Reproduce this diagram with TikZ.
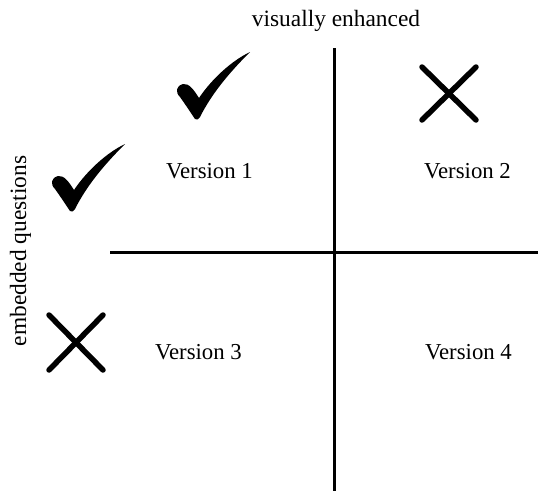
\documentclass[tikz,border=0pt]{standalone}
\usepackage{fontspec}
\setmainfont{Liberation Serif}
\begin{document}
\begin{tikzpicture}[x=1pt,y=-1pt,
  axis/.style={line width=3pt},
  cross/.style={line width=5.5pt,line cap=round},
  lab/.style={font=\fontsize{22.8}{27}\selectfont,anchor=base,inner sep=0pt},
  axlab/.style={font=\fontsize{23.4}{27}\selectfont,anchor=base,inner sep=0pt},
  check/.pic={\fill (0,0) .. controls (-4,-6) and (-10,-15) .. (-15,-22)
      .. controls (-20,-27) and (-19,-33) .. (-12,-35)
      .. controls (-6,-36) and (-1,-29) .. (4,-21)
      .. controls (16,-39) and (36,-58) .. (55,-67)
      .. controls (38,-50) and (18,-28) .. (5,-2)
      .. controls (3,1) and (1,1) .. (0,0) -- cycle;}
]
\useasboundingbox (0,0) rectangle (538,491);
% axes
\coordinate (vtop) at (334,48);
\coordinate (vbot) at (334,491);
\coordinate (hleft) at (110,252);
\coordinate (hright) at (538,252);
\draw[axis] (vtop) -- (vbot);
\draw[axis] (hleft) -- (hright);
% axis labels
\node[axlab] (ve) at (336,26.5) {visually enhanced};
\node[axlab,rotate=90] (eq) at (26,251) {embedded questions};
% version labels
\node[lab] (v1) at (209.5,178) {Version 1};
\node[lab] (v2) at (467.5,178) {Version 2};
\node[lab] (v3) at (198.5,359.5) {Version 3};
\node[lab] (v4) at (468.5,359.5) {Version 4};
% checks
\pic at (195,119) {check};
\pic at (70,211) {check};
% crosses
\coordinate (c1a) at (422,67);
\coordinate (c1b) at (476,120);
\coordinate (c1c) at (476,67);
\coordinate (c1d) at (422,120);
\draw[cross] (c1a) -- (c1b);
\draw[cross] (c1c) -- (c1d);
\coordinate (c2a) at (49,315);
\coordinate (c2b) at (103,370);
\coordinate (c2c) at (103,315);
\coordinate (c2d) at (49,370);
\draw[cross] (c2a) -- (c2b);
\draw[cross] (c2c) -- (c2d);
\end{tikzpicture}
\end{document}
